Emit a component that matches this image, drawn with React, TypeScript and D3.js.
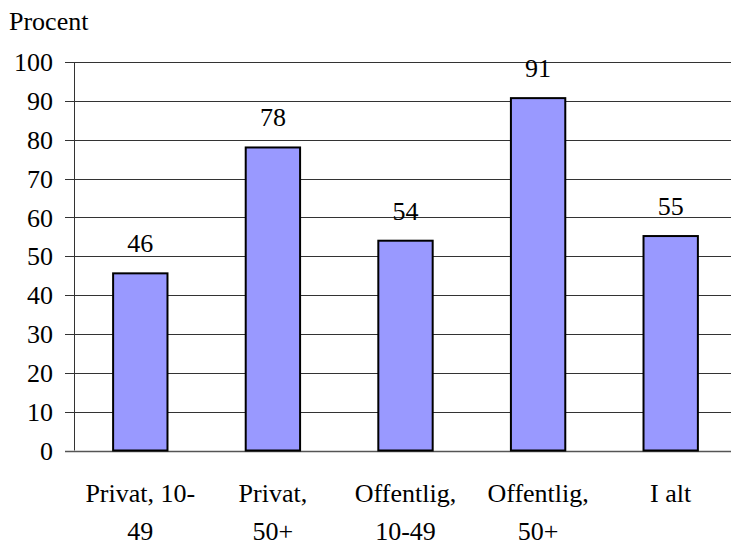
import * as d3 from "d3";
import React from "react";

// bar chart: share in percent by sector and size
const categories = [
  ["Privat, 10-", "49"],
  ["Privat,", "50+"],
  ["Offentlig,", "10-49"],
  ["Offentlig,", "50+"],
  ["I alt", ""],
];
const values = [45.6, 78, 54, 90.7, 55.2];
const yTicks = [0, 10, 20, 30, 40, 50, 60, 70, 80, 90, 100];
const yTitle = "Procent";

const App: React.FC = () => {
  const width = 731;
  const height = 545;
  const margin = { top: 62, right: -6, bottom: 95, left: 74 };
  const font = "Liberation Serif, DejaVu Serif, Times New Roman, serif";
  const fs = 26;
  const txt = { fontFamily: font, fontSize: fs, fill: "#000" };

  const x = d3
    .scaleBand<number>()
    .domain(values.map((_, i) => i))
    .range([margin.left, width - margin.right])
    .paddingInner(0.59)
    .paddingOuter(0.295);

  const y = d3
    .scaleLinear()
    .domain([0, 100])
    .range([height - margin.bottom + 0.5, margin.top]);

  const fmt = d3.format(".0f");

  return (
    <svg
      width={width}
      height={height}
      style={{ position: "absolute", left: 0, top: 0, background: "white" }}
    >
      <text x={9} y={30} style={txt}>
        {yTitle}
      </text>

      {/* gridlines + y ticks */}
      {yTicks.map((t) => (
        <g key={t}>
          <line
            x1={65}
            x2={width}
            y1={Math.round(y(t)) + 0.5}
            y2={Math.round(y(t)) + 0.5}
            stroke={t === 0 ? "#555" : "#333"}
            strokeWidth={t === 0 ? 1.5 : 1}
          />
          <text x={53} y={y(t)} dy="0.35em" textAnchor="end" style={txt}>
            {t}
          </text>
        </g>
      ))}

      {/* y axis */}
      <line
        x1={margin.left + 0.5}
        x2={margin.left + 0.5}
        y1={y(100)}
        y2={y(0)}
        stroke="#333"
      />

      {/* bars */}
      {values.map((v, i) => (
        <g key={i}>
          <rect
            x={x(i)!}
            y={y(v)}
            width={x.bandwidth()}
            height={y(0) - y(v)}
            fill="#9999FF"
            stroke="#000"
            strokeWidth={2}
          />
          <text
            x={x(i)! + x.bandwidth() / 2}
            y={y(v) - 21}
            textAnchor="middle"
            style={txt}
          >
            {fmt(v)}
          </text>
        </g>
      ))}

      {/* category labels */}
      {categories.map((lines, i) =>
        lines.map((ln, j) => (
          <text
            key={`${i}-${j}`}
            x={x(i)! + x.bandwidth() / 2}
            y={502 + j * 38}
            textAnchor="middle"
            style={txt}
          >
            {ln}
          </text>
        ))
      )}
    </svg>
  );
};

export default App;
